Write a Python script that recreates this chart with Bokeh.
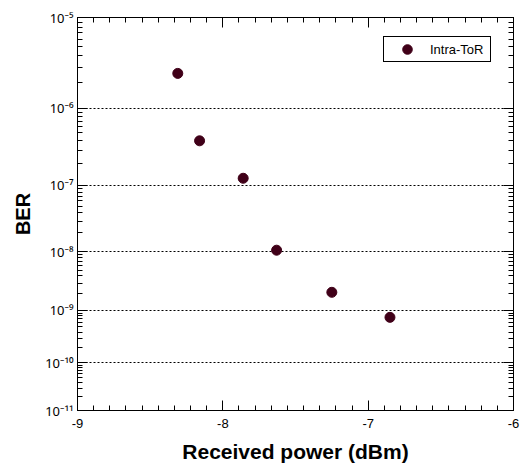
import numpy as np
from bokeh.plotting import figure
from bokeh.models import Range1d, FixedTicker, SingleIntervalTicker, LinearAxis
from bokeh.embed import file_html
from bokeh.resources import INLINE

# ---- data ----
power_dbm = [-8.31, -8.16, -7.86, -7.63, -7.25, -6.85]
ber = [2.55e-6, 3.95e-7, 1.25e-7, 1.06e-8, 2.1e-9, 7.5e-10]
series_name = "Intra-ToR"
x_ticks = [-9, -8, -7, -6]
ber_exponents = [5, 6, 7, 8, 9, 10, 11]

SUP = str.maketrans("-0123456789", "⁻⁰¹²³⁴⁵⁶⁷⁸⁹")


def ber_scale(b):
    # classic BER-plot axis: -log10(-log10(BER))
    b = np.asarray(b, dtype=float)
    return -np.log10(-np.log10(b))


y_vals = ber_scale(ber)
major_pos = [float(ber_scale(10.0 ** -e)) for e in ber_exponents]
major_labels = {pos: "10" + ("-" + str(e)).translate(SUP) for pos, e in zip(major_pos, ber_exponents)}
minor_pos = []
for e in ber_exponents[1:]:
    for k in range(2, 10):
        minor_pos.append(float(ber_scale(k * 10.0 ** -e)))

FONT = "Liberation Sans"

p = figure(
    width=521, height=465,
    output_backend="svg", toolbar_location=None,
    x_range=Range1d(-9, -6),
    y_range=Range1d(min(major_pos), max(major_pos)),
    min_border_left=77, min_border_right=8, min_border_top=17, min_border_bottom=55,
    background_fill_color="white", border_fill_color="white",
    outline_line_color="black", outline_line_width=1,
)

p.xgrid.visible = False
p.ygrid.ticker = FixedTicker(ticks=major_pos[1:-1])
p.ygrid.grid_line_color = "black"
p.ygrid.grid_line_dash = "2 2"
p.ygrid.grid_line_width = 1


def style_axis(ax):
    ax.axis_line_color = "black"
    ax.axis_line_width = 1
    ax.major_tick_line_color = "black"
    ax.minor_tick_line_color = "black"
    ax.major_tick_in = 10
    ax.major_tick_out = 0
    ax.minor_tick_in = 5
    ax.minor_tick_out = 0
    ax.major_label_text_font = FONT
    ax.major_label_text_color = "black"
    ax.major_label_text_font_size = "13px"
    ax.major_label_standoff = 5


xa = p.xaxis[0]
xa.ticker = SingleIntervalTicker(interval=1, num_minor_ticks=9)
style_axis(xa)
xa.major_label_overrides = {t: str(t) for t in x_ticks}
xa.major_label_standoff = 8
xa.axis_label = "Received power (dBm)"
xa.axis_label_text_font = FONT
xa.axis_label_text_font_style = "bold"
xa.axis_label_text_font_size = "21px"
xa.axis_label_text_color = "black"
xa.axis_label_standoff = 9

ya = p.yaxis[0]
ya.ticker = FixedTicker(ticks=major_pos, minor_ticks=minor_pos)
style_axis(ya)
ya.major_label_text_font = "Noto Sans"
ya.major_label_text_font_size = "13px"
ya.major_label_standoff = 4
ya.major_label_overrides = major_labels
ya.axis_label = "BER"
ya.axis_label_text_font = FONT
ya.axis_label_text_font_style = "bold"
ya.axis_label_text_font_size = "20px"
ya.axis_label_text_color = "black"
ya.axis_label_standoff = 8

top = LinearAxis(ticker=SingleIntervalTicker(interval=1, num_minor_ticks=9))
style_axis(top)
top.major_label_standoff = 0
top.major_label_overrides = {t: "" for t in x_ticks}
p.add_layout(top, "above")

right = LinearAxis(ticker=FixedTicker(ticks=major_pos, minor_ticks=minor_pos))
style_axis(right)
right.major_label_standoff = 0
right.major_label_overrides = {pos: "" for pos in major_pos}
p.add_layout(right, "right")

p.scatter(power_dbm, y_vals, size=10, marker="circle",
          fill_color="#400018", line_color="#400018", legend_label=series_name)

lg = p.legend[0]
lg.location = (306, 348)
lg.border_line_color = "black"
lg.border_line_width = 1
lg.border_line_alpha = 1
lg.background_fill_color = "white"
lg.background_fill_alpha = 1
lg.padding = 0
lg.margin = 0
lg.spacing = 0
lg.glyph_width = 46
lg.glyph_height = 24
lg.label_height = 24
lg.label_width = 60
lg.label_standoff = 0
lg.label_text_font = FONT
lg.label_text_font_size = "13px"
lg.label_text_color = "black"

open("out.html", "w").write(file_html(p, INLINE))
